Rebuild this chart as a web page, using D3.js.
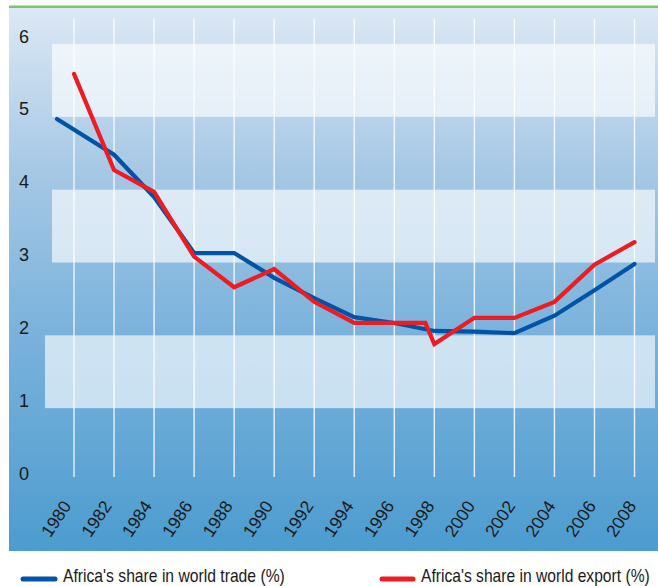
<!DOCTYPE html>
<html>
<head>
<meta charset="utf-8">
<script src="https://cdn.jsdelivr.net/npm/d3@7/dist/d3.min.js"></script>
<style>
html,body{margin:0;padding:0;background:#fff;}
svg{display:block;}
</style>
</head>
<body>
<script>
// ---- data ----
const tickYears = [1980,1982,1984,1986,1988,1990,1992,1994,1996,1998,2000,2002,2004,2006,2008];
const yTicks = [0,1,2,3,4,5,6];
const tradeYears = [1979.15,1982,1984,1986,1988,1990,1992,1994,1996,1998,2000,2002,2004,2006,2008];
const tradeValues = [4.97,4.48,3.9,3.13,3.13,2.79,2.51,2.25,2.17,2.06,2.05,2.03,2.27,2.62,2.98];
const exportYears = [1980,1982,1984,1986,1988,1990,1992,1994,1996,1997.55,1998,2000,2002,2004,2006,2008];
const exportValues = [5.59,4.27,3.97,3.08,2.66,2.91,2.46,2.17,2.17,2.17,1.88,2.24,2.24,2.46,2.97,3.28];
const bands = [[5,6],[3,4],[1,2]];
const seriesNames = ["Africa's share in world trade (%)", "Africa's share in world export (%)"];

const W = 658, H = 586;
const svg = d3.select("body").append("svg").attr("width", W).attr("height", H);

const x = d3.scaleLinear().domain([1980, 2008]).range([74, 634.5]);
const xLabel = d3.scaleLinear().domain([1980, 2008]).range([72, 637]);
const y = d3.scaleLinear().domain([0, 6]).range([481, 44]);

const defs = svg.append("defs");
const grad = defs.append("linearGradient").attr("id","bg")
  .attr("gradientUnits","userSpaceOnUse").attr("x1",0).attr("y1",8).attr("x2",0).attr("y2",551);
[[0,"#dce8f5"],[0.3,"#a6c8e5"],[0.6,"#7ab2dc"],[1,"#4c9ccf"]].forEach(([o,c]) =>
  grad.append("stop").attr("offset",o).attr("stop-color",c));

// panel
svg.append("rect").attr("x",9).attr("y",8).attr("width",W-9).attr("height",551-8).attr("fill","url(#bg)");
svg.append("rect").attr("x",9).attr("y",5.5).attr("width",W-9).attr("height",2.5).attr("fill","#7cc36a");

// light bands
const bandLeft = [52,52,45];
svg.append("g").selectAll("rect").data(bands).join("rect")
  .attr("x",(d,i)=>bandLeft[i]).attr("width",(d,i)=>655-bandLeft[i])
  .attr("y",d=>y(d[1])).attr("height",d=>y(d[0])-y(d[1]))
  .attr("fill","#fff").attr("fill-opacity",0.64);

// vertical gridlines
svg.append("g").selectAll("line").data(tickYears).join("line")
  .attr("x1",d=>x(d)).attr("x2",d=>x(d)).attr("y1",19).attr("y2",477)
  .attr("stroke","#fff").attr("stroke-opacity",0.85).attr("stroke-width",1.4);

// y labels
svg.append("g").selectAll("text").data(yTicks).join("text")
  .attr("x",19).attr("y",d=>y(d)-1.5)
  .attr("font-family","Liberation Sans, Arial, sans-serif").attr("font-size",18)
  .attr("fill","#1a1a1a").text(d=>d);

// x labels
svg.append("g").selectAll("text").data(tickYears).join("text")
  .attr("transform",d=>`translate(${xLabel(d)},${506}) rotate(-56)`)
  .attr("text-anchor","end")
  .attr("font-family","Liberation Sans, Arial, sans-serif").attr("font-size",17.5)
  .attr("fill","#1a1a1a").text(d=>d);

// lines
const line = d3.line().x(d=>x(d[0])).y(d=>y(d[1]));
svg.append("path").datum(d3.zip(tradeYears, tradeValues)).attr("d",line)
  .attr("fill","none").attr("stroke","#0054a6").attr("stroke-width",4.2)
  .attr("stroke-linejoin","miter").attr("stroke-linecap","round");
svg.append("path").datum(d3.zip(exportYears, exportValues)).attr("d",line)
  .attr("fill","none").attr("stroke","#ec1c24").attr("stroke-width",4.2)
  .attr("stroke-linejoin","miter").attr("stroke-linecap","round");

// legend (condensed look via horizontal scale)
const legend = [
  {name: seriesNames[0], color:"#0054a6", x1:23, x2:55, tx:63, len:222},
  {name: seriesNames[1], color:"#ec1c24", x1:382, x2:413, tx:421, len:229}
];
const lg = svg.append("g");
legend.forEach(l => {
  lg.append("line").attr("x1",l.x1).attr("x2",l.x2).attr("y1",579).attr("y2",579)
    .attr("stroke",l.color).attr("stroke-width",5).attr("stroke-linecap","round");
  const g = lg.append("g");
  const t = g.append("text").attr("x",0).attr("y",0)
    .attr("font-family","Liberation Sans, Arial, sans-serif").attr("font-size",17.5)
    .attr("fill","#1a1a1a").text(l.name);
  const natural = t.node().getComputedTextLength();
  g.attr("transform", `translate(${l.tx},581.5) scale(${l.len/natural},1)`);
});
</script>
</body>
</html>
